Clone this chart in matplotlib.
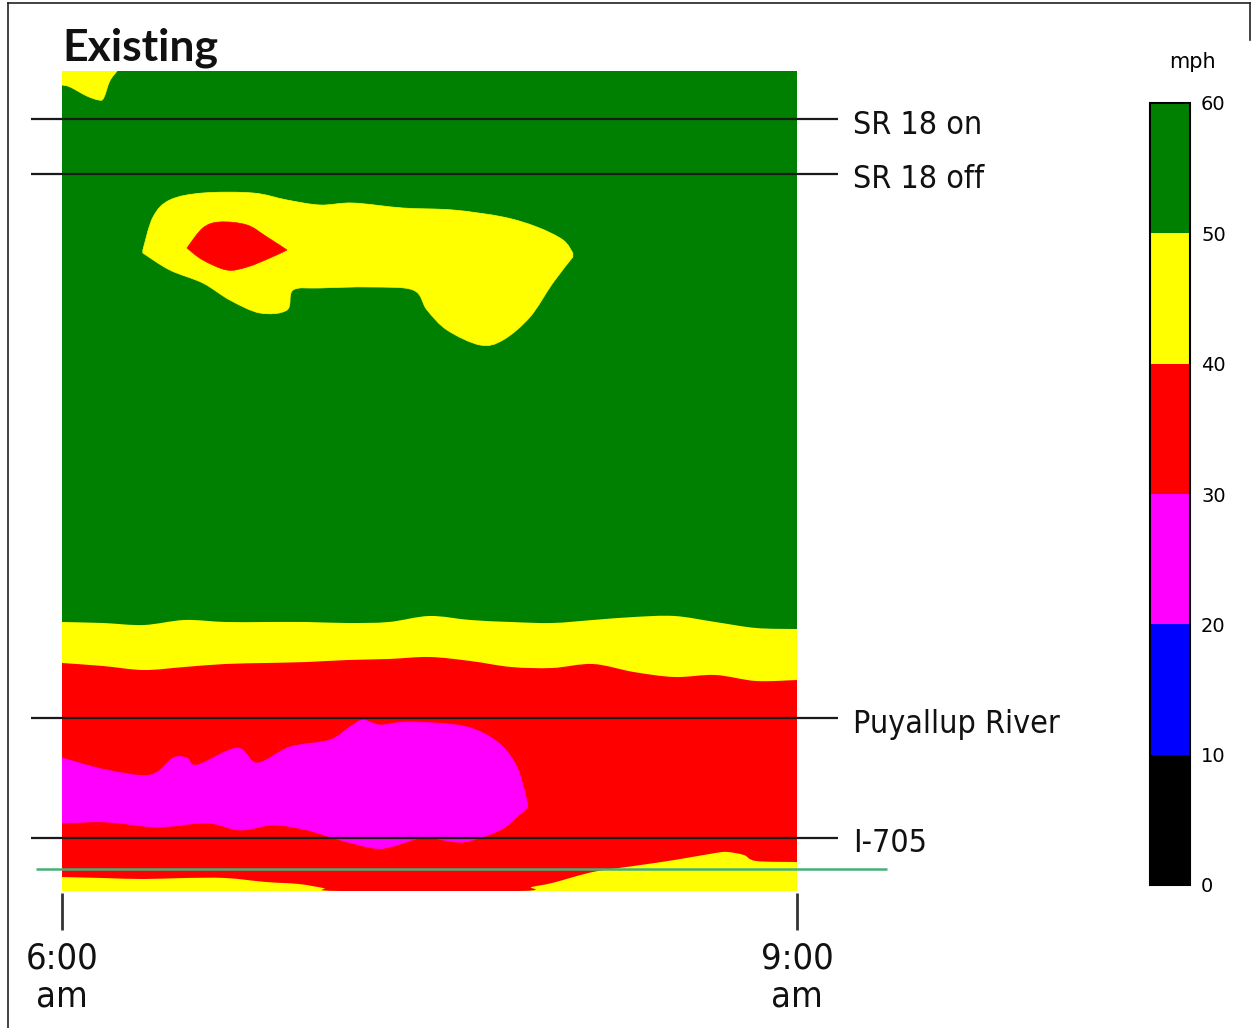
import matplotlib
matplotlib.use("Agg")
import numpy as np
import matplotlib.pyplot as plt
from matplotlib import font_manager
from matplotlib.colors import ListedColormap, BoundaryNorm
from matplotlib.cm import ScalarMappable
from matplotlib.lines import Line2D
from matplotlib.path import Path
from matplotlib.patches import PathPatch

# ---------------------------------------------------------------------------
# Speed classes (mph) used by the contour map and the colour bar
speed_bounds = [0, 10, 20, 30, 40, 50, 60]
speed_colors = ["#000000", "#0000ff", "#ff00ff", "#ff0000", "#ffff00", "#008000"]

# Time axis: minutes after 6:00 am (0 .. 180 = 9:00 am)
# Position axis: corridor position units, 0 at top of the map, 82 at bottom
time_start, time_end = 0, 180
pos_top, pos_bottom = 0, 82

# Broad congestion bands, sampled every 10 minutes
band_times = [0, 10, 20, 30, 40, 50, 60, 70, 80, 90, 100, 110, 120, 130,
              140, 150, 160, 170, 180]
green_yellow_edge = [55.1, 55.2, 55.4, 54.9, 55.1, 55.1, 55.1, 55.2, 55.1,
                     54.5, 54.9, 55.1, 55.2, 54.9, 54.6, 54.5, 55.1, 55.7, 55.8]
yellow_red_edge = [59.2, 59.5, 59.9, 59.6, 59.3, 59.2, 59.1, 58.9, 58.8,
                   58.6, 59.0, 59.6, 59.7, 59.3, 60.1, 60.6, 60.4, 61.0, 60.9]

# Lower yellow strip (top edge; 82 means the strip is absent)
low_strip_times = [0, 10, 20, 30, 40, 50, 58, 64, 68, 112, 115, 120, 130, 140,
                   150, 160, 163, 167, 170, 180]
low_strip_edge = [80.6, 80.7, 80.8, 80.7, 80.7, 81.1, 81.3, 81.7, 82.0, 82.0,
                  81.6, 81.2, 80.1, 79.5, 78.9, 78.2, 78.1, 78.4, 79.0, 79.1]

# 20-30 mph queue below Puyallup River
queue_top_times = [0, 11.0, 21.6, 27.2, 30.6, 33.1, 42.9, 47.8, 55.8, 65.6,
                   70.5, 73.7, 77.9, 84.5, 96.7, 103.1, 108.0, 111.4, 113.4, 114.1]
queue_top_pos = [68.7, 69.9, 70.4, 68.7, 68.7, 69.4, 67.7, 69.2, 67.6, 66.9,
                 65.6, 64.9, 65.4, 65.1, 65.4, 66.2, 67.6, 69.6, 72.2, 73.6]
queue_bottom_times = [0, 11.0, 23.3, 35.5, 43.6, 51.7, 60.0, 68.1, 76.2, 80.3,
                      88.4, 96.7, 100.7, 107.3, 111.4, 114.1]
queue_bottom_pos = [75.2, 75.1, 75.6, 75.2, 75.9, 75.4, 75.9, 76.9, 77.7, 77.6,
                    76.7, 77.1, 76.9, 75.9, 74.6, 73.6]

# 40-50 mph slowdown near SR 18
slow_top_times = [19.8, 22.3, 26.4, 34.5, 46.8, 55.1, 63.2, 71.3, 83.5, 95.8,
                  108.0, 116.3, 122.7, 125.1]
slow_top_pos = [17.9, 14.6, 12.9, 12.2, 12.2, 12.9, 13.4, 13.2, 13.7, 13.9,
                14.6, 15.6, 16.9, 18.2]
slow_bottom_times = [19.8, 26.4, 34.5, 41.1, 48.5, 55.1, 56.6, 63.2, 75.4, 86.0,
                     89.4, 94.3, 102.4, 108.0, 114.6, 120.2, 125.1]
slow_bottom_pos = [18.2, 19.9, 21.2, 22.9, 24.2, 23.9, 21.9, 21.7, 21.6, 21.9,
                   23.9, 25.9, 27.4, 26.9, 24.6, 21.2, 18.6]

# 30-40 mph core inside that slowdown
core_top_times = [30.6, 34.5, 38.7, 45.3, 50.2, 55.1]
core_top_pos = [17.7, 15.7, 15.1, 15.4, 16.6, 17.9]
core_bottom_times = [30.6, 34.5, 40.4, 45.3, 50.9, 55.1]
core_bottom_pos = [17.7, 18.9, 19.9, 19.6, 18.7, 17.9]

# Early 40-50 mph patch at the top of the corridor
early_top_times = [0, 13.5]
early_top_pos = [0.0, 0.0]
early_bottom_times = [0, 2.0, 6.1, 9.0, 10.2, 11.7, 13.5]
early_bottom_pos = [1.4, 1.6, 2.5, 2.9, 2.7, 1.0, 0.0]

# Reference locations along the corridor
landmark_names = ["SR 18 on", "SR 18 off", "Puyallup River", "I-705"]
landmark_pos = [4.8, 10.3, 64.7, 76.7]
boundary_pos = 79.8

time_labels = ["6:00\nam", "9:00\nam"]
time_label_ticks = [time_start, time_end]

# ---------------------------------------------------------------------------
# pick a narrow sans family for the annotation text
installed = font_manager.fontManager.ttflist
names = {f.name for f in installed}
label_family, label_stretch, label_size = "Liberation Sans", "normal", 22
if "Liberation Sans Narrow" in names:
    label_family, label_size = "Liberation Sans Narrow", 26
elif any(f.name == "DejaVu Sans" and f.stretch == "condensed" for f in installed):
    label_family, label_stretch, label_size = "DejaVu Sans", "condensed", 23
elif "Roboto Condensed" in names:
    label_family, label_size = "Roboto Condensed", 25
label_font = [label_family, "DejaVu Sans"]

W, H = 1252, 1028
fig = plt.figure(figsize=(W / 100, H / 100), dpi=100)
fig.patch.set_facecolor("white")

cmap = ListedColormap(speed_colors)
norm = BoundaryNorm(speed_bounds, cmap.N)


def speed_color(v):
    return cmap(norm(v))


ax = fig.add_axes([62 / W, 1 - 891 / H, 735 / W, 820 / H])
ax.set_xlim(time_start, time_end)
ax.set_ylim(pos_bottom, pos_top)
ax.axis("off")


def smooth_segment(xs, ys):
    """Cubic Bezier pieces (Catmull-Rom style) running through the points."""
    pts = np.column_stack([xs, ys]).astype(float)
    n = len(pts)
    verts = []
    for i in range(n - 1):
        p0 = pts[i - 1] if i > 0 else pts[i]
        p1, p2 = pts[i], pts[i + 1]
        p3 = pts[i + 2] if i + 2 < n else pts[i + 1]
        verts += [p1 + (p2 - p0) / 6.0, p2 - (p3 - p1) / 6.0, p2]
    return verts


def region(top_t, top_p, bot_t, bot_p, speed):
    top = smooth_segment(top_t, top_p)
    bot = smooth_segment(bot_t[::-1], bot_p[::-1])
    verts = [(top_t[0], top_p[0])] + top + [(bot_t[-1], bot_p[-1])] + bot
    verts.append((top_t[0], top_p[0]))
    codes = ([Path.MOVETO] + [Path.CURVE4] * len(top) + [Path.LINETO]
             + [Path.CURVE4] * len(bot) + [Path.CLOSEPOLY])
    c = speed_color(speed)
    ax.add_patch(PathPatch(Path(verts, codes), fc=c, ec=c, lw=0.5))


def band_below(ts, ps, speed):
    edge = smooth_segment(ts, ps)
    verts = ([(ts[0], ps[0])] + edge
             + [(ts[-1], pos_bottom), (ts[0], pos_bottom), (ts[0], ps[0])])
    codes = ([Path.MOVETO] + [Path.CURVE4] * len(edge)
             + [Path.LINETO, Path.LINETO, Path.CLOSEPOLY])
    c = speed_color(speed)
    ax.add_patch(PathPatch(Path(verts, codes), fc=c, ec="none", lw=0))


# free-flow background
ax.fill_between([time_start, time_end], pos_top, pos_bottom,
                color=speed_color(55), lw=0)
# yellow band, then red below it
band_below(band_times, green_yellow_edge, 45)
band_below(band_times, yellow_red_edge, 35)
# queue core
region(queue_top_times, queue_top_pos, queue_bottom_times, queue_bottom_pos, 25)
# lower yellow strip
band_below(low_strip_times, low_strip_edge, 45)
# SR 18 slowdown
region(slow_top_times, slow_top_pos, slow_bottom_times, slow_bottom_pos, 45)
region(core_top_times, core_top_pos, core_bottom_times, core_bottom_pos, 35)
region(early_top_times, early_top_pos, early_bottom_times, early_bottom_pos, 45)

# landmark lines and labels
ytr = ax.get_yaxis_transform()
for name, p in zip(landmark_names, landmark_pos):
    ax.plot([-0.042, 1.056], [p, p], transform=ytr, color="#1a1a1a",
            lw=1.6, clip_on=False, solid_capstyle="butt")
    ax.text(1.076, p + 1.45, name, transform=ytr, ha="left", va="baseline",
            fontsize=label_size, family=label_font, fontstretch=label_stretch,
            color="#111111")
ax.plot([-0.035, 1.123], [boundary_pos, boundary_pos], transform=ytr,
        color="#45b07a", lw=1.8, clip_on=False, solid_capstyle="butt")

# time ticks and labels below the map
xtr = ax.get_xaxis_transform()
for t, lab in zip(time_label_ticks, time_labels):
    ax.plot([t, t], [-0.002, -0.048], transform=xtr, color="#333333",
            lw=2, clip_on=False, solid_capstyle="butt")
    ax.text(t, -0.062, lab, transform=xtr, ha="center", va="top",
            multialignment="center", linespacing=1.12,
            fontsize=label_size + 3, family=label_font,
            fontstretch=label_stretch, color="#111111")

# title
fig.text(62 / W, 1 - 61 / H, "Existing", ha="left", va="baseline",
         fontsize=32, fontweight="bold", family=["Lato", "DejaVu Sans"],
         color="#111111")

# colour bar
cax = fig.add_axes([1150 / W, 1 - 885 / H, 40 / W, 782 / H])
cb = fig.colorbar(ScalarMappable(norm=norm, cmap=cmap), cax=cax,
                  ticks=speed_bounds)
cb.ax.tick_params(length=0, labelsize=14, pad=8)
cb.outline.set_linewidth(1.5)
fig.text(1192 / W, 1 - 68 / H, "mph", ha="center", va="baseline", fontsize=15)

# page frame
fig.add_artist(Line2D([8 / W, 1250 / W], [1 - 3 / H, 1 - 3 / H],
                      color="#222222", lw=1.2))
fig.add_artist(Line2D([8 / W, 8 / W], [0, 1 - 3 / H], color="#222222", lw=1.2))
fig.add_artist(Line2D([1250 / W, 1250 / W], [1 - 40 / H, 1 - 3 / H],
                      color="#222222", lw=1.2))

fig.savefig("out.png", dpi=100)
